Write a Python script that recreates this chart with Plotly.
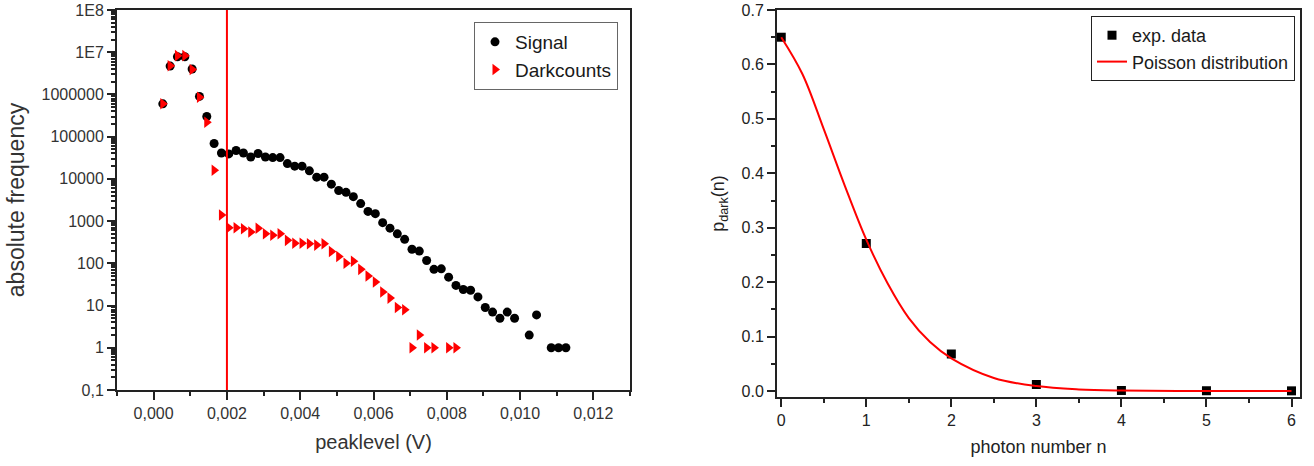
import plotly.graph_objects as go

# ---------------- left panel: peak-level histogram ----------------
peaklevel = [
    0.00025, 0.00045, 0.00065, 0.00085, 0.00105, 0.00125, 0.00145, 0.00165,
    0.00185, 0.00205, 0.00225, 0.00245, 0.00265, 0.00285, 0.00305, 0.00325,
    0.00345, 0.00365, 0.00385, 0.00405, 0.00425, 0.00445, 0.00465, 0.00485,
    0.00505, 0.00525, 0.00545, 0.00565, 0.00585, 0.00605, 0.00625, 0.00645,
    0.00665, 0.00685, 0.00705, 0.00725, 0.00745, 0.00765, 0.00785, 0.00805,
    0.00825, 0.00845, 0.00865, 0.00885, 0.00905, 0.00925, 0.00945, 0.00965,
    0.00985, 0.01005, 0.01025, 0.01045, 0.01065, 0.01085, 0.01105, 0.01125,
]
signal = [
    6.0e5, 4.7e6, 7.8e6, 7.8e6, 4.0e6, 9.0e5, 3.0e5, 6.9e4,
    4.1e4, 3.9e4, 4.7e4, 4.1e4, 3.3e4, 4.0e4, 3.3e4, 3.2e4,
    3.2e4, 2.3e4, 2.0e4, 2.0e4, 1.55e4, 1.1e4, 1.1e4, 7.5e3,
    5.3e3, 4.8e3, 3.8e3, 2.6e3, 1.7e3, 1.5e3, 920, 680,
    500, 370, 215, 195, 117, 72, 74, 47,
    30, 24, 23, 16, 9, 7, 5, 7,
    5, None, 2, 6, None, 1, 1, 1,
]
darkcounts = [
    6.0e5, 4.8e6, 8.3e6, 8.3e6, 3.9e6, 8.6e5, 2.2e5, 1.6e4,
    1400, 700, 700, 660, 550, 680, 500, 460,
    500, 350, 300, 300, 290, 270, 290, 190,
    145, 100, 112, 72, 50, 36, 21, 15,
    9, 8, 1, 2, 1, 1, None, 1,
    1, None, None, None, None, None, None, None,
    None, None, None, None, None, None, None, None,
]
threshold = 0.002

freq_tickvals = [0.1, 1, 10, 100, 1000, 10000, 100000, 1000000, 1e7, 1e8]
freq_ticktext = ["0,1", "1", "10", "100", "1000", "10000", "100000",
                 "1000000", "1E7", "1E8"]
peak_tickvals = [0.0, 0.002, 0.004, 0.006, 0.008, 0.010, 0.012]
peak_ticktext = ["0,000", "0,002", "0,004", "0,006", "0,008", "0,010", "0,012"]

# ---------------- right panel: dark-count photon statistics ----------------
photon_n = [0, 1, 2, 3, 4, 5, 6]
p_dark = [0.650, 0.271, 0.068, 0.012, 0.001, 0.0005, 0.0003]

poisson_n = [0, 0.25, 0.5, 0.75, 1, 1.25, 1.5, 1.75, 2, 2.5, 3, 3.5, 4, 5, 6]
poisson_p = [0.650, 0.582, 0.481, 0.376, 0.278, 0.198, 0.134, 0.090, 0.060,
             0.024, 0.009, 0.003, 0.001, 0.0001, 0.0]

FONT = "Liberation Sans, Arial, sans-serif"
W, H = 1314, 466

fig = go.Figure()

fig.add_trace(go.Scatter(
    x=peaklevel, y=signal, mode="markers", name="Signal",
    marker=dict(symbol="circle", size=9, color="black"),
    xaxis="x", yaxis="y", legend="legend",
))
fig.add_trace(go.Scatter(
    x=peaklevel, y=darkcounts, mode="markers", name="Darkcounts",
    marker=dict(symbol="triangle-right", size=10, color="#ff0000"),
    xaxis="x", yaxis="y", legend="legend",
))
fig.add_trace(go.Scatter(
    x=photon_n, y=p_dark, mode="markers", name="exp. data",
    marker=dict(symbol="square", size=9, color="black"),
    xaxis="x2", yaxis="y2", legend="legend2",
))
fig.add_trace(go.Scatter(
    x=poisson_n, y=poisson_p, mode="lines", name="Poisson distribution",
    line=dict(color="#ff0000", width=2, shape="spline", smoothing=1.0),
    xaxis="x2", yaxis="y2", legend="legend2",
))

# threshold marker in the histogram
fig.add_shape(type="line", xref="x", yref="y domain",
              x0=threshold, x1=threshold, y0=0, y1=1,
              line=dict(color="#ff0000", width=2))

minor_log = [m * 10 ** e for e in range(-1, 8) for m in range(2, 10)]

axis_common = dict(showgrid=False, zeroline=False, showline=True,
                   linecolor="#222", linewidth=2, mirror=True,
                   ticks="outside", tickcolor="#222", tickwidth=1.5,
                   automargin=False)

fig.update_layout(
    width=W, height=H,
    margin=dict(l=0, r=0, t=0, b=0),
    paper_bgcolor="white", plot_bgcolor="white",
    font=dict(family=FONT, color="#1a1a1a"),
    showlegend=True,
    xaxis=dict(
        **axis_common,
        domain=[117 / W, 630 / W], anchor="y",
        range=[-0.001, 0.013],
        tickmode="array", tickvals=peak_tickvals, ticktext=peak_ticktext,
        ticklen=8,
        minor=dict(ticks="outside", ticklen=4, dtick=0.001, tick0=-0.001,
                   tickcolor="#222"),
        tickfont=dict(size=16, color="#333"),
        title=dict(text="peaklevel (V)", font=dict(size=20, color="#333"),
                   standoff=14),
    ),
    yaxis=dict(
        **axis_common,
        domain=[1 - 390 / H, 1 - 10 / H], anchor="x",
        type="log", range=[-1, 8],
        tickmode="array", tickvals=freq_tickvals, ticktext=freq_ticktext,
        ticklen=8,
        minor=dict(ticks="outside", ticklen=4, tickmode="array",
                   tickvals=minor_log, tickcolor="#222"),
        tickfont=dict(size=16, color="#333"),
        title=dict(text="absolute frequency", font=dict(size=23, color="#333"),
                   standoff=10),
    ),
    xaxis2=dict(
        **axis_common,
        domain=[777 / W, 1300 / W], anchor="y2",
        range=[-0.05, 6.1],
        tickmode="linear", tick0=0, dtick=1, ticklen=8,
        minor=dict(ticks="outside", ticklen=4, dtick=0.5, tickcolor="#222"),
        tickfont=dict(size=16, color="#222"),
        title=dict(text="photon number n", font=dict(size=18, color="#222"),
                   standoff=12),
    ),
    yaxis2=dict(
        **axis_common,
        domain=[1 - 397 / H, 1 - 10 / H], anchor="x2",
        range=[-0.011, 0.7],
        tickmode="linear", tick0=0, dtick=0.1, tickformat=".1f", ticklen=8,
        minor=dict(ticks="outside", ticklen=4, dtick=0.05, tickcolor="#222"),
        tickfont=dict(size=16, color="#222"),
        title=dict(text="p<sub>dark</sub>(n)", font=dict(size=18, color="#222"),
                   standoff=12),
    ),
    legend=dict(
        x=618 / W, y=1 - 22 / H, xanchor="right", yanchor="top",
        bgcolor="white", bordercolor="#666", borderwidth=1,
        font=dict(size=19, color="#1a1a1a"), tracegroupgap=0,
        itemwidth=30,
    ),
    legend2=dict(
        x=1295 / W, y=1 - 16 / H, xanchor="right", yanchor="top",
        bgcolor="white", bordercolor="#222", borderwidth=1,
        font=dict(size=18, color="#1a1a1a"), tracegroupgap=0,
        itemwidth=30,
    ),
)

fig.write_html("out.html")
